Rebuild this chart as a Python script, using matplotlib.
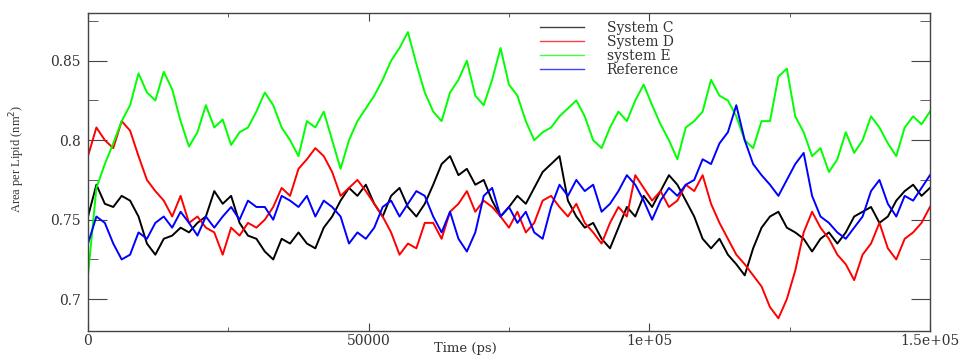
import numpy as np
import matplotlib
matplotlib.use('Agg')
import matplotlib.pyplot as plt
from matplotlib.ticker import FixedLocator, FixedFormatter

# Tempo (ps), um ponto a cada 1500 ps
tempo = np.arange(0, 150001, 1500)

# Valores (area por lipidio, nm^2)
sistema_c = [0.752, 0.772, 0.760, 0.758, 0.765, 0.762, 0.752, 0.735, 0.728, 0.738,
             0.740, 0.745, 0.742, 0.748, 0.752, 0.768, 0.760, 0.765, 0.748, 0.740,
             0.738, 0.730, 0.725, 0.738, 0.735, 0.742, 0.735, 0.732, 0.745, 0.752,
             0.762, 0.770, 0.765, 0.772, 0.760, 0.752, 0.765, 0.770, 0.758, 0.752,
             0.760, 0.772, 0.785, 0.790, 0.778, 0.782, 0.772, 0.775, 0.762, 0.752,
             0.758, 0.765, 0.760, 0.770, 0.780, 0.785, 0.790, 0.762, 0.752, 0.745,
             0.748, 0.738, 0.732, 0.745, 0.758, 0.752, 0.765, 0.758, 0.768, 0.778,
             0.772, 0.762, 0.752, 0.738, 0.732, 0.738, 0.728, 0.722, 0.715, 0.732,
             0.745, 0.752, 0.755, 0.745, 0.742, 0.738, 0.730, 0.738, 0.742, 0.735,
             0.742, 0.752, 0.755, 0.758, 0.748, 0.752, 0.762, 0.768, 0.772, 0.765,
             0.770]

sistema_d = [0.790, 0.808, 0.800, 0.795, 0.812, 0.806, 0.790, 0.775, 0.768, 0.762,
             0.752, 0.765, 0.748, 0.752, 0.745, 0.742, 0.728, 0.745, 0.740, 0.748,
             0.745, 0.750, 0.758, 0.770, 0.765, 0.782, 0.788, 0.795, 0.790, 0.780,
             0.765, 0.770, 0.775, 0.768, 0.760, 0.752, 0.742, 0.728, 0.735, 0.732,
             0.748, 0.748, 0.738, 0.755, 0.760, 0.768, 0.755, 0.762, 0.758, 0.752,
             0.745, 0.755, 0.742, 0.748, 0.762, 0.765, 0.758, 0.752, 0.760, 0.748,
             0.742, 0.735, 0.748, 0.758, 0.752, 0.778, 0.770, 0.762, 0.768, 0.758,
             0.762, 0.772, 0.768, 0.778, 0.760, 0.748, 0.738, 0.728, 0.722, 0.715,
             0.708, 0.695, 0.688, 0.700, 0.718, 0.742, 0.755, 0.745, 0.738, 0.728,
             0.722, 0.712, 0.728, 0.735, 0.748, 0.732, 0.725, 0.738, 0.742, 0.748,
             0.758]

sistema_e = [0.715, 0.770, 0.785, 0.798, 0.812, 0.822, 0.842, 0.830, 0.825, 0.843,
             0.832, 0.812, 0.796, 0.805, 0.822, 0.808, 0.813, 0.797, 0.805, 0.808,
             0.818, 0.830, 0.822, 0.808, 0.800, 0.790, 0.812, 0.808, 0.818, 0.800,
             0.782, 0.800, 0.812, 0.820, 0.828, 0.838, 0.850, 0.858, 0.868, 0.848,
             0.830, 0.818, 0.812, 0.830, 0.838, 0.850, 0.828, 0.822, 0.838, 0.858,
             0.835, 0.828, 0.812, 0.800, 0.805, 0.808, 0.815, 0.820, 0.825, 0.815,
             0.800, 0.795, 0.808, 0.818, 0.812, 0.825, 0.835, 0.822, 0.810, 0.800,
             0.788, 0.808, 0.812, 0.818, 0.838, 0.828, 0.825, 0.815, 0.800, 0.795,
             0.812, 0.812, 0.840, 0.845, 0.815, 0.805, 0.790, 0.795, 0.780, 0.788,
             0.805, 0.792, 0.800, 0.815, 0.808, 0.798, 0.790, 0.808, 0.815, 0.810,
             0.818]

referencia = [0.735, 0.752, 0.748, 0.735, 0.725, 0.728, 0.742, 0.738, 0.748, 0.752,
              0.745, 0.755, 0.748, 0.740, 0.752, 0.745, 0.752, 0.758, 0.750, 0.762,
              0.758, 0.758, 0.750, 0.765, 0.762, 0.758, 0.765, 0.752, 0.762, 0.758,
              0.752, 0.735, 0.742, 0.738, 0.745, 0.758, 0.762, 0.752, 0.760, 0.768,
              0.765, 0.752, 0.742, 0.755, 0.738, 0.730, 0.742, 0.765, 0.770, 0.752,
              0.758, 0.748, 0.755, 0.742, 0.738, 0.758, 0.772, 0.765, 0.775, 0.768,
              0.772, 0.755, 0.760, 0.768, 0.778, 0.772, 0.762, 0.750, 0.762, 0.770,
              0.765, 0.772, 0.775, 0.788, 0.785, 0.798, 0.805, 0.822, 0.800, 0.785,
              0.778, 0.772, 0.765, 0.775, 0.785, 0.792, 0.765, 0.752, 0.748, 0.742,
              0.738, 0.745, 0.752, 0.768, 0.775, 0.760, 0.752, 0.765, 0.762, 0.770,
              0.778]

series = [("System C", sistema_c, "black"),
          ("System D", sistema_d, "#ff0000"),
          ("system E", sistema_e, "#00ff00"),
          ("Reference", referencia, "#0000ff")]

fig = plt.figure(figsize=(9.68, 3.56), dpi=100)
ax = fig.add_axes([0.0909, 0.0702, 0.8698, 0.8933])

for nome, valores, cor in series:
    ax.plot(tempo, valores, color=cor, lw=1.4, label=nome)

ax.set_xlim(0, 150000)
ax.set_ylim(0.68, 0.88)

# Ticks no estilo xmgrace
ax.xaxis.set_major_locator(FixedLocator([0, 50000, 100000, 150000]))
ax.xaxis.set_major_formatter(FixedFormatter(["0", "50000", "1e+05", "1.5e+05"]))
ax.xaxis.set_minor_locator(FixedLocator([25000, 75000, 125000]))
ax.yaxis.set_major_locator(FixedLocator([0.7, 0.75, 0.8, 0.85]))
ax.yaxis.set_major_formatter(FixedFormatter(["0.7", "0.75", "0.8", "0.85"]))
ax.yaxis.set_minor_locator(FixedLocator([0.725, 0.775, 0.825, 0.875]))
ax.tick_params(which='both', direction='in', top=True, right=True, color='#444444')
ax.tick_params(axis='x', which='major', length=6, pad=2)
ax.tick_params(axis='x', which='minor', length=3)
ax.tick_params(axis='y', which='major', length=14, pad=5)
ax.tick_params(axis='y', which='minor', length=7)
for lbl in ax.get_xticklabels() + ax.get_yticklabels():
    lbl.set_family('DejaVu Serif')
    lbl.set_fontsize(10)
    lbl.set_color('#333333')
for sp in ax.spines.values():
    sp.set_color('#444444')
    sp.set_linewidth(1.0)

ax.set_xlabel("Time (ps)", family='DejaVu Serif', fontsize=9.5, color='#333333')
ax.xaxis.set_label_coords(0.448, -0.033)
ax.set_ylabel("Area per Lipid (nm$^2$)", family='Liberation Serif', fontsize=9, color='#333333')
ax.yaxis.set_label_coords(-0.072, 0.54)

leg = ax.legend(loc='upper left', bbox_to_anchor=(0.527, 1.0), frameon=False,
                prop={'family': 'DejaVu Serif', 'size': 10}, handlelength=3.2,
                handletextpad=1.6, labelspacing=0.0, borderaxespad=0.2)
for linha in leg.get_lines():
    linha.set_linewidth(1.0)
    linha.set_alpha(0.75)
for txt in leg.get_texts():
    txt.set_color('#333333')

fig.savefig("out.png", dpi=100)
